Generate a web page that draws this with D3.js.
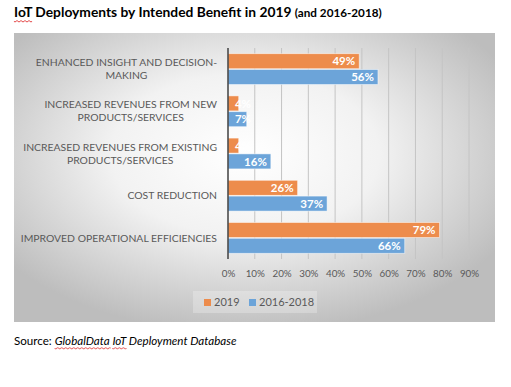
<!DOCTYPE html>
<html>
<head>
<meta charset="utf-8">
<script src="https://cdn.jsdelivr.net/npm/d3@7"></script>
<style>
  body { margin: 0; background: #fff; }
  svg { display: block; }
</style>
</head>
<body>
<div id="chart"></div>
<script>
// donnees
const categories = [
    "ENHANCED INSIGHT AND DECISION-MAKING",
    "INCREASED REVENUES FROM NEW PRODUCTS/SERVICES",
    "INCREASED REVENUES FROM EXISTING PRODUCTS/SERVICES",
    "COST REDUCTION",
    "IMPROVED OPERATIONAL EFFICIENCIES"
];
const categoryLines = [
    ["ENHANCED INSIGHT AND DECISION-", "MAKING"],
    ["INCREASED REVENUES FROM NEW", "PRODUCTS/SERVICES"],
    ["INCREASED REVENUES FROM EXISTING", "PRODUCTS/SERVICES"],
    ["COST REDUCTION"],
    ["IMPROVED OPERATIONAL EFFICIENCIES"]
];
const seriesNames = ["2019", "2016-2018"];
const values2019 = [49, 4, 4, 26, 79];
const values20162018 = [56, 7, 16, 37, 66];
const tickValues = [0, 10, 20, 30, 40, 50, 60, 70, 80, 90];
const colors = ["#ED8C4C", "#6CA4D9"];

const W = 511, H = 387;
const font = "Lato, 'Open Sans', sans-serif";

const svg = d3.select("#chart").append("svg")
    .attr("width", W)
    .attr("height", H);

const defs = svg.append("defs");
const grad = defs.append("radialGradient")
    .attr("id", "bg-grad")
    .attr("cx", "48%").attr("cy", "42%").attr("r", "62%");
grad.append("stop").attr("offset", "0%").attr("stop-color", "#ffffff");
grad.append("stop").attr("offset", "45%").attr("stop-color", "#f2f2f2");
grad.append("stop").attr("offset", "100%").attr("stop-color", "#bdbdbd");

// soulignement ondule (correcteur)
function squiggle(x1, x2, y) {
    let p = `M${x1},${y}`;
    for (let x = x1; x < x2; x += 2) {
        p += ` L${x + 1},${y + ((x - x1) / 2 % 2 === 0 ? 1.2 : -0.2)} L${x + 2},${y}`;
    }
    return p;
}
function addSquiggle(x1, x2, yy) {
    svg.append("path")
        .attr("d", squiggle(x1, x2, yy))
        .attr("fill", "none")
        .attr("stroke", "#e03030")
        .attr("stroke-width", 0.8);
}

// titre
const title = svg.append("text")
    .attr("x", 14)
    .attr("y", 17)
    .attr("font-family", font)
    .attr("font-weight", "bold")
    .attr("fill", "#000");
title.append("tspan").attr("font-size", "13.8px").text("IoT Deployments by Intended Benefit in 2019 ");
title.append("tspan").attr("font-size", "11.7px").text("(and 2016-2018)");
addSquiggle(14, 14 + title.node().getSubStringLength(0, 3), 21);

// panneau
svg.append("rect")
    .attr("x", 14).attr("y", 33)
    .attr("width", 481).attr("height", 289)
    .attr("fill", "url(#bg-grad)");

const x = d3.scaleLinear()
    .domain([0, 90])
    .range([228, 469]);

const y = d3.scaleBand()
    .domain(categories)
    .range([48, 259])
    .paddingInner(0.27)
    .paddingOuter(0.135);

const ySub = d3.scaleBand()
    .domain(seriesNames)
    .range([0, y.bandwidth()])
    .paddingInner(0.05);

// grille
svg.append("g")
    .selectAll("line")
    .data(tickValues.slice(1))
    .join("line")
    .attr("x1", d => x(d)).attr("x2", d => x(d))
    .attr("y1", 48).attr("y2", 259)
    .attr("stroke", "#c4c4c4")
    .attr("stroke-width", 1);

// barres
const series = [values2019, values20162018];
const groups = svg.append("g")
    .selectAll("g")
    .data(categories)
    .join("g")
    .attr("transform", d => `translate(0,${y(d)})`);

groups.each(function (cat, i) {
    const g = d3.select(this);
    seriesNames.forEach((s, j) => {
        const v = series[j][i];
        g.append("rect")
            .attr("x", x(0))
            .attr("y", ySub(s))
            .attr("width", x(v) - x(0))
            .attr("height", ySub.bandwidth())
            .attr("fill", colors[j])
            .attr("stroke", "rgba(255,255,255,0.6)")
            .attr("stroke-width", 0.8);
        g.append("text")
            .attr("x", Math.max(x(v) - 4, x(0) + 23))
            .attr("y", ySub(s) + ySub.bandwidth() / 2)
            .attr("dy", "0.36em")
            .attr("text-anchor", "end")
            .attr("font-family", font)
            .attr("font-weight", "bold")
            .attr("font-size", "11.5px")
            .attr("fill", "#fff")
            .text(v + "%");
    });
});

// axe vertical
svg.append("line")
    .attr("x1", x(0)).attr("x2", x(0))
    .attr("y1", 48).attr("y2", 259)
    .attr("stroke", "#404040")
    .attr("stroke-width", 1.5);

// etiquettes des categories
const labels = svg.append("g")
    .selectAll("text")
    .data(categories)
    .join("text")
    .attr("font-family", font)
    .attr("font-size", "10.4px")
    .attr("fill", "#595959")
    .attr("text-anchor", "middle");

labels.each(function (cat, i) {
    const t = d3.select(this);
    const lines = categoryLines[i];
    const cy = y(cat) + y.bandwidth() / 2;
    lines.forEach((line, k) => {
        t.append("tspan")
            .attr("y", cy + (k - (lines.length - 1) / 2) * 13)
            .attr("dy", "0.35em")
            .text(line);
    });
    // centrer le bloc, bord droit de la plus longue ligne a 217
    let maxW = 0;
    t.selectAll("tspan").each(function () {
        maxW = Math.max(maxW, this.getComputedTextLength());
    });
    t.selectAll("tspan").attr("x", 217 - maxW / 2);
});

// axe des x
const xAxis = svg.append("g")
    .attr("transform", "translate(0,259)")
    .call(d3.axisBottom(x).tickValues(tickValues).tickFormat(d => d + "%").tickSize(0).tickPadding(11));
xAxis.select(".domain").remove();
xAxis.selectAll("text")
    .attr("font-family", font)
    .attr("font-size", "9.8px")
    .attr("fill", "#595959");

// legende
const legend = svg.append("g");
legend.append("rect")
    .attr("x", 193).attr("y", 291)
    .attr("width", 124).attr("height", 22)
    .attr("fill", "rgba(255,255,255,0.25)");
const legendX = [204, 249];
seriesNames.forEach((s, j) => {
    legend.append("rect")
        .attr("x", legendX[j]).attr("y", 299)
        .attr("width", 7).attr("height", 7)
        .attr("fill", colors[j]);
    legend.append("text")
        .attr("x", legendX[j] + 10)
        .attr("y", 302.5)
        .attr("dy", "0.35em")
        .attr("font-family", font)
        .attr("font-size", "11px")
        .attr("fill", "#595959")
        .text(s);
});

// source
const src = svg.append("text")
    .attr("x", 14)
    .attr("y", 345)
    .attr("font-family", font)
    .attr("font-size", "11.6px")
    .attr("fill", "#000");
src.append("tspan").text("Source: ");
src.append("tspan").attr("font-style", "italic").text("GlobalData IoT Deployment Database");

const srcNode = src.node();
const start = 14 + srcNode.getSubStringLength(0, 8);
addSquiggle(start, start + srcNode.getSubStringLength(8, 10), 348);
const iotStart = 14 + srcNode.getSubStringLength(0, 19);
addSquiggle(iotStart, iotStart + srcNode.getSubStringLength(19, 3), 348);
</script>
</body>
</html>
